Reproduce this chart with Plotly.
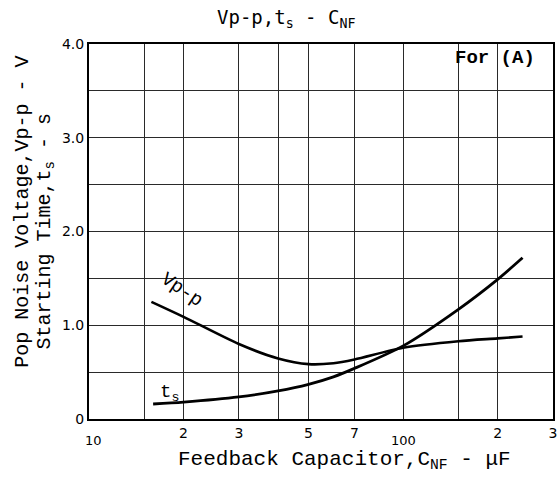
import plotly.graph_objects as go

# Feedback capacitor values (uF) and curve readings
cnf_vpp = [15.8, 20, 30, 40, 50, 60, 70, 100, 150, 200, 240]
vpp = [1.25, 1.09, 0.80, 0.645, 0.585, 0.595, 0.635, 0.76, 0.83, 0.86, 0.88]

cnf_ts = [16, 20, 30, 40, 50, 60, 70, 100, 150, 200, 240]
ts = [0.16, 0.18, 0.235, 0.30, 0.37, 0.45, 0.54, 0.78, 1.17, 1.49, 1.72]

# Axis grid / tick definitions
x_grid = [10, 15, 20, 30, 40, 50, 70, 100, 150, 200, 300]
x_labels = ["", "", "2", "3", "", "5", "7", "", "", "2", "3"]
y_grid = [0, 0.5, 1.0, 1.5, 2.0, 2.5, 3.0, 3.5, 4.0]
y_labels = ["0", "", "1.0", "", "2.0", "", "3.0", "", "4.0"]

mono = "Liberation Mono"
sans = "DejaVu Sans"

fig = go.Figure()
fig.add_trace(go.Scatter(x=cnf_vpp, y=vpp, mode="lines",
                         line=dict(color="black", width=2.6, shape="spline", smoothing=0.8),
                         showlegend=False, hoverinfo="skip"))
fig.add_trace(go.Scatter(x=cnf_ts, y=ts, mode="lines",
                         line=dict(color="black", width=2.8, shape="spline", smoothing=0.8),
                         showlegend=False, hoverinfo="skip"))

fig.update_layout(
    width=558, height=477,
    margin=dict(l=89, r=1, t=44, b=58),
    paper_bgcolor="white", plot_bgcolor="white",
    xaxis=dict(type="log", range=[1, 2.47715], tickvals=x_grid, ticktext=x_labels,
               showgrid=True, gridcolor="#2a2a2a", gridwidth=1,
               showline=True, linecolor="black", linewidth=2, mirror=True,
               ticks="", zeroline=False, ticklabeloverflow="allow",
               tickfont=dict(family=sans, size=14, color="black")),
    yaxis=dict(range=[0, 4], tickvals=y_grid, ticktext=y_labels,
               showgrid=True, gridcolor="#2a2a2a", gridwidth=1,
               showline=True, linecolor="black", linewidth=2, mirror=True,
               ticks="", zeroline=False,
               tickfont=dict(family=sans, size=14, color="black")),
)


def note(text, x, y, size, family=mono, xref="paper", yref="paper", angle=0):
    return dict(text=text, x=x, y=y, xref=xref, yref=yref, textangle=angle,
                xanchor="center", yanchor="middle", showarrow=False,
                font=dict(family=family, size=size, color="black"))


annotations = [
    # chart title
    note("Vp-p,t<sub>s</sub> - C<sub>NF</sub>", 0.425, 1.067, 19, family="DejaVu Sans Mono"),
    # x-axis labels that sit lower than the digit labels
    note("10", 1.0158, -0.058, 13, family=sans, xref="x"),
    note("100", 2, -0.058, 13, family=sans, xref="x"),
    # axis titles
    note("Feedback Capacitor,C<sub>NF</sub> - \u03bcF", 0.55, -0.11, 21),
    note("Pop Noise Voltage,Vp-p - V", -0.143, 0.552, 20, angle=-90),
    note("Starting Time,t<sub>s</sub> - s", -0.094, 0.501, 20, angle=-90),
    # in-plot labels
    note("<b>For (A)</b>", 0.875, 0.963, 19),
    note("Vp-p", 1.2956, 1.375, 19, xref="x", yref="y", angle=34),
    note("t<sub>s</sub>", 1.2547, 0.28, 19, xref="x", yref="y"),
]
fig.update_layout(annotations=annotations)

fig.write_html("out.html")
